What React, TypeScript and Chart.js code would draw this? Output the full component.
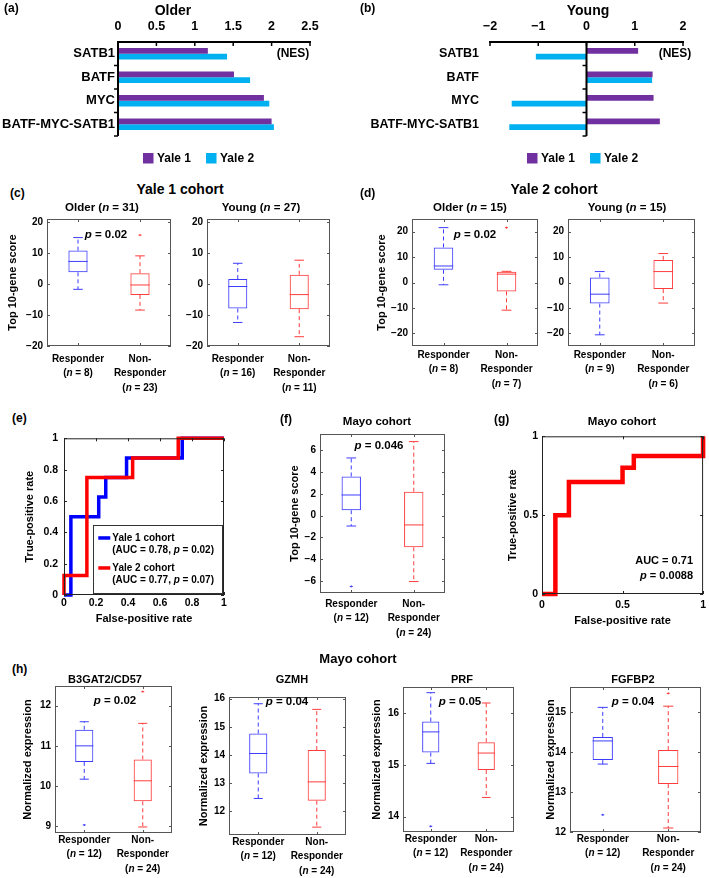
import React, { useEffect, useRef } from 'react';
import { Chart, registerables } from 'chart.js';

Chart.register(...registerables);

const FONT = '"Liberation Sans", Arial, Helvetica, sans-serif';
Chart.defaults.font.family = FONT;
Chart.defaults.color = '#000';

// ---------------- data ----------------
const tfCategories = ['SATB1', 'BATF', 'MYC', 'BATF-MYC-SATB1'];
const cohortNames = ['Yale 1', 'Yale 2'];
const olderNesYale1 = [1.17, 1.51, 1.9, 2.0];
const olderNesYale2 = [1.42, 1.72, 1.97, 2.03];
const youngNesYale1 = [1.07, 1.37, 1.39, 1.52];
const youngNesYale2 = [-1.05, 1.36, -1.55, -1.6];
const olderNesTicks = [0, 0.5, 1, 1.5, 2, 2.5];
const youngNesTicks = [-2, -1, 0, 1, 2];

const groupNames = ['Responder', 'Non-Responder'];
// box statistics: [lower whisker, Q1, median, Q3, upper whisker]
const yale1OlderResp = [-1.7, 3.8, 7.3, 10.8, 15.0];
const yale1OlderNonResp = [-8.4, -3.5, -0.3, 3.5, 9.1];
const yale1OlderOutliers = [[], [15.8]];
const yale1OlderN = [8, 23];
const yale1YoungResp = [-12.4, -7.9, -0.8, 1.6, 6.7];
const yale1YoungNonResp = [-17.0, -8.1, -3.4, 3.0, 7.7];
const yale1YoungOutliers = [[], []];
const yale1YoungN = [16, 11];
const yale1ScoreTicks = [-20, -10, 0, 10, 20];

const yale2OlderResp = [-0.9, 5.0, 6.5, 13.8, 21.6];
const yale2OlderNonResp = [-10.9, -3.5, 3.3, 4.2, 4.4];
const yale2OlderOutliers = [[], [21.6]];
const yale2OlderN = [8, 7];
const yale2YoungResp = [-20.6, -8.3, -4.6, 2.0, 4.3];
const yale2YoungNonResp = [-8.1, -2.6, 4.3, 8.9, 11.4];
const yale2YoungOutliers = [[], []];
const yale2YoungN = [9, 6];
const yale2ScoreTicks = [-20, -10, 0, 10, 20];

const mayoN = [12, 24];
const mayoScoreResp = [-0.95, 0.5, 1.9, 3.6, 5.3];
const mayoScoreNonResp = [-6.05, -2.9, -0.85, 2.2, 6.8];
const mayoScoreOutliers = [[-6.5], []];
const mayoScoreTicks = [-6, -4, -2, 0, 2, 4, 6];

const b3gat2Resp = [10.17, 10.6, 11.0, 11.4, 11.6];
const b3gat2NonResp = [8.98, 9.62, 10.13, 10.66, 11.56];
const b3gat2Outliers = [[9.03], [12.35]];
const b3gat2Ticks = [9, 10, 11, 12];
const gzmhResp = [12.45, 13.34, 14.05, 14.76, 15.82];
const gzmhNonResp = [11.43, 12.37, 13.04, 14.17, 15.62];
const gzmhOutliers = [[], []];
const gzmhTicks = [12, 13, 14, 15, 16];
const prfResp = [15.03, 15.24, 15.64, 15.84, 16.4];
const prfNonResp = [14.37, 14.9, 15.23, 15.44, 16.2];
const prfOutliers = [[13.81], []];
const prfTicks = [14, 15, 16];
const fgfbp2Resp = [13.7, 13.8, 14.28, 14.38, 15.12];
const fgfbp2NonResp = [12.1, 13.2, 13.64, 14.05, 15.15];
const fgfbp2Outliers = [[12.43], [15.47]];
const fgfbp2Ticks = [12, 13, 14, 15];

// ROC curves
const rocYale1Fpr = [0, 0.043, 0.043, 0.217, 0.217, 0.261, 0.261, 0.391, 0.391, 0.739, 0.739, 1];
const rocYale1Tpr = [0, 0, 0.5, 0.5, 0.625, 0.625, 0.75, 0.75, 0.875, 0.875, 1, 1];
const rocYale2Fpr = [0, 0, 0.143, 0.143, 0.429, 0.429, 0.714, 0.714, 1];
const rocYale2Tpr = [0, 0.125, 0.125, 0.75, 0.75, 0.875, 0.875, 1, 1];
const rocMayoFpr = [0, 0.083, 0.083, 0.167, 0.167, 0.5, 0.5, 0.57, 0.57, 1, 1];
const rocMayoTpr = [0, 0, 0.5, 0.5, 0.71, 0.71, 0.8, 0.8, 0.875, 0.875, 1];
const rocCohorts = ['Yale 1 cohort', 'Yale 2 cohort'];
const rocAuc = [0.78, 0.77];
const rocP = [0.02, 0.07];
const rocTicksFine = [0, 0.2, 0.4, 0.6, 0.8, 1];
const rocTicksCoarse = [0, 0.5, 1];

// ---------------- helpers ----------------
const BLUE = 'rgb(60,60,255)';
const RED = 'rgb(255,60,60)';
const PURPLE = '#7030A0';
const CYAN = '#00B0F0';

const fmt = (v: number) => (v < 0 ? '\u2212' + Math.abs(v) : String(v));

function drawRich(ctx: any, text: string, x: number, y: number, size: number, align: string) {
  const parts = text.split(/\b([np])\b/);
  const fonts = parts.map((_, i) => `${i % 2 ? 'italic ' : ''}bold ${size}px ${FONT}`);
  const widths = parts.map((p, i) => {
    ctx.font = fonts[i];
    return ctx.measureText(p).width;
  });
  const total = widths.reduce((a, b) => a + b, 0);
  let cx = align === 'left' ? x : align === 'right' ? x - total : x - total / 2;
  ctx.textAlign = 'left';
  ctx.textBaseline = 'middle';
  ctx.fillStyle = '#000';
  parts.forEach((p, i) => {
    ctx.font = fonts[i];
    ctx.fillText(p, cx, y);
    cx += widths[i];
  });
}

function drawYTitle(ctx: any, text: string, x: number, yc: number, size: number) {
  ctx.save();
  ctx.translate(x, yc);
  ctx.rotate(-Math.PI / 2);
  drawRich(ctx, text, 0, 0, size, 'center');
  ctx.restore();
}

function seg(ctx: any, x1: number, y1: number, x2: number, y2: number) {
  ctx.beginPath();
  ctx.moveTo(x1, y1);
  ctx.lineTo(x2, y2);
  ctx.stroke();
}

function useChartCanvas(factory: (c: HTMLCanvasElement) => any) {
  const ref = useRef<HTMLCanvasElement | null>(null);
  useEffect(() => {
    if (!ref.current) return;
    const chart = factory(ref.current);
    return () => chart.destroy();
  }, []);
  return ref;
}

function Rich({ text }: { text: string }) {
  const parts = text.split(/\b([np])\b/);
  return (
    <>
      {parts.map((p, i) => (i % 2 ? <i key={i}>{p}</i> : <span key={i}>{p}</span>))}
    </>
  );
}

// ---------------- NES bar panel ----------------
function NesPanel(props: any) {
  const { canvasLeft, canvasWidth, area, xMin, xMax, ticks, yale1, yale2, catFont, catPad, legendX, legendY } = props;
  const height = 172;
  const ref = useChartCanvas((canvas) => {
    const plugin = {
      id: 'nesAxes',
      afterDatasetsDraw(chart: any) {
        const ctx = chart.ctx;
        const a = chart.chartArea;
        const xs = chart.scales.x;
        const ys = chart.scales.y;
        ctx.save();
        ctx.strokeStyle = '#000';
        ctx.lineWidth = 2;
        seg(ctx, a.left - 1, a.top, a.right + 1, a.top);
        ctx.lineWidth = 1.5;
        ticks.forEach((v: number) => {
          const x = xs.getPixelForValue(v);
          seg(ctx, x, a.top, x, a.top + 4);
        });
        const x0 = xs.getPixelForValue(0);
        ctx.lineWidth = 2;
        seg(ctx, x0, a.top, x0, a.bottom);
        ctx.lineWidth = 1.5;
        const n = chart.data.labels.length;
        for (let k = 0; k < n; k++) {
          const y = ys.getPixelForValue(k + 0.5);
          seg(ctx, x0 - 4, y, x0, y);
        }
        // legend
        let lx = legendX - canvasLeft;
        ctx.font = `bold 12px ${FONT}`;
        ctx.textBaseline = 'middle';
        ctx.textAlign = 'left';
        chart.data.datasets.forEach((ds: any) => {
          ctx.fillStyle = ds.backgroundColor;
          ctx.fillRect(lx, legendY - 5, 10.5, 10.5);
          ctx.fillStyle = '#000';
          ctx.fillText(ds.label, lx + 14, legendY + 0.5);
          lx += 14 + ctx.measureText(ds.label).width + 15;
        });
        ctx.restore();
      },
    };
    return new Chart(canvas, {
      type: 'bar',
      data: {
        labels: tfCategories,
        datasets: [
          { label: cohortNames[0], data: yale1, backgroundColor: PURPLE, borderWidth: 0, barPercentage: 1, categoryPercentage: 0.485 },
          { label: cohortNames[1], data: yale2, backgroundColor: CYAN, borderWidth: 0, barPercentage: 1, categoryPercentage: 0.485 },
        ],
      },
      options: {
        indexAxis: 'y',
        animation: false,
        responsive: false,
        maintainAspectRatio: false,
        layout: { padding: { left: 0, top: 0, right: canvasLeft + canvasWidth - area.r, bottom: height - area.b } },
        plugins: { legend: { display: false }, tooltip: { enabled: false } },
        scales: {
          x: {
            type: 'linear',
            position: 'top',
            min: xMin,
            max: xMax,
            grid: { display: false, drawTicks: false },
            border: { display: false },
            afterBuildTicks: (s: any) => {
              s.ticks = ticks.map((v: number) => ({ value: v }));
            },
            ticks: { padding: 8, color: '#000', font: { size: 12.5, weight: 'bold' }, callback: (v: any) => fmt(Number(v)) },
            afterFit: (s: any) => {
              s.height = area.t;
            },
          },
          y: {
            type: 'category',
            grid: { display: false, drawTicks: false },
            border: { display: false },
            ticks: { padding: catPad, color: '#000', font: { size: catFont, weight: 'bold' } },
            afterFit: (s: any) => {
              s.width = area.l - canvasLeft;
            },
          },
        },
      } as any,
      plugins: [plugin],
    });
  });
  return (
    <canvas
      ref={ref}
      width={canvasWidth}
      height={height}
      style={{ position: 'absolute', left: canvasLeft, top: 0, width: canvasWidth, height }}
    />
  );
}

// ---------------- box plot panel ----------------
function BoxPanel(props: any) {
  const { area, yMin, yMax, yTicks, resp, nonResp, outliers, nums, yTitle, yTitleGap, labelGap } = props;
  const ML = 54, MT = 10, MR = 8, MB = 60;
  const left = area.l - ML, top = area.t - MT;
  const width = area.r - area.l + ML + MR, height = area.b - area.t + MT + MB;
  const ref = useChartCanvas((canvas) => {
    const stats = [resp, nonResp];
    const colors = [BLUE, RED];
    const nonParts = groupNames[1].replace('-', '-\n').split('\n');
    const xLabels = [
      [groupNames[0], `(n = ${nums[0]})`],
      [...nonParts, `(n = ${nums[1]})`],
    ];
    const plugin = {
      id: 'boxExtras',
      afterDatasetsDraw(chart: any) {
        const ctx = chart.ctx;
        const ys = chart.scales.y;
        const meta = chart.getDatasetMeta(0);
        const y = (v: number) => ys.getPixelForValue(v);
        stats.forEach((s: number[], i: number) => {
          const el = meta.data[i];
          const cx = el.x, bw = el.width;
          ctx.save();
          ctx.strokeStyle = colors[i];
          ctx.lineWidth = 1;
          ctx.setLineDash([4, 3]);
          seg(ctx, cx, y(s[3]), cx, y(s[4]));
          seg(ctx, cx, y(s[1]), cx, y(s[0]));
          ctx.setLineDash([]);
          seg(ctx, cx - bw / 4, y(s[4]), cx + bw / 4, y(s[4]));
          seg(ctx, cx - bw / 4, y(s[0]), cx + bw / 4, y(s[0]));
          seg(ctx, cx - bw / 2, y(s[2]), cx + bw / 2, y(s[2]));
          outliers[i].forEach((v: number) => {
            const oy = y(v);
            seg(ctx, cx - 1.5, oy, cx + 1.5, oy);
            seg(ctx, cx, oy - 1, cx, oy + 1);
          });
          ctx.restore();
        });
      },
      afterDraw(chart: any) {
        const ctx = chart.ctx;
        const a = chart.chartArea;
        const ys = chart.scales.y;
        const meta = chart.getDatasetMeta(0);
        ctx.save();
        ctx.strokeStyle = '#555';
        ctx.lineWidth = 1;
        ctx.strokeRect(a.left + 0.5, a.top + 0.5, a.right - a.left - 1, a.bottom - a.top - 1);
        yTicks.forEach((v: number) => {
          const yy = Math.round(ys.getPixelForValue(v)) + 0.5;
          seg(ctx, a.left, yy, a.left + 3, yy);
          seg(ctx, a.right - 3, yy, a.right, yy);
        });
        meta.data.forEach((el: any, i: number) => {
          const xx = Math.round(el.x) + 0.5;
          seg(ctx, xx, a.bottom, xx, a.bottom - 3);
          seg(ctx, xx, a.top, xx, a.top + 3);
          xLabels[i].forEach((ln: string, k: number) => {
            drawRich(ctx, ln, el.x, a.bottom + labelGap + k * 14.5, 10, 'center');
          });
        });
        if (yTitle) drawYTitle(ctx, yTitle, a.left - yTitleGap, (a.top + a.bottom) / 2, 11);
        ctx.restore();
      },
    };
    return new Chart(canvas, {
      type: 'bar',
      data: {
        labels: groupNames,
        datasets: [
          {
            data: stats.map((s: number[]) => [s[1], s[3]]),
            borderColor: colors,
            backgroundColor: 'rgba(0,0,0,0)',
            borderWidth: 1,
            borderSkipped: false,
            barPercentage: 0.31,
            categoryPercentage: 1,
          },
        ],
      },
      options: {
        animation: false,
        responsive: false,
        maintainAspectRatio: false,
        layout: { padding: { left: 0, top: MT, right: MR, bottom: 0 } },
        plugins: { legend: { display: false }, tooltip: { enabled: false } },
        scales: {
          x: {
            type: 'category',
            grid: { display: false, drawTicks: false },
            border: { display: false },
            ticks: { display: false },
            afterFit: (s: any) => {
              s.height = MB;
            },
          },
          y: {
            type: 'linear',
            min: yMin,
            max: yMax,
            grid: { display: false, drawTicks: false },
            border: { display: false },
            afterBuildTicks: (s: any) => {
              s.ticks = yTicks.map((v: number) => ({ value: v }));
            },
            ticks: { padding: 4, color: '#000', font: { size: 10, weight: 'bold' }, callback: (v: any) => fmt(Number(v)) },
            afterFit: (s: any) => {
              s.width = ML;
            },
          },
        },
      } as any,
      plugins: [plugin],
    });
  });
  return <canvas ref={ref} width={width} height={height} style={{ position: 'absolute', left, top, width, height }} />;
}

// ---------------- ROC panel ----------------
function RocPanel(props: any) {
  const { area, series, ticks, tickPadX, yTitleGap, xTitleGap, legend } = props;
  const ML = 56, MT = 8, MR = 6, MB = 36;
  const left = area.l - ML, top = area.t - MT;
  const width = area.r - area.l + ML + MR, height = area.b - area.t + MT + MB;
  const ref = useChartCanvas((canvas) => {
    const plugin = {
      id: 'rocExtras',
      afterDraw(chart: any) {
        const ctx = chart.ctx;
        const a = chart.chartArea;
        const xs = chart.scales.x;
        const ys = chart.scales.y;
        ctx.save();
        ctx.strokeStyle = '#222';
        ctx.lineWidth = 1;
        ctx.strokeRect(a.left + 0.5, a.top + 0.5, a.right - a.left - 1, a.bottom - a.top - 1);
        ticks.forEach((v: number) => {
          const xx = Math.round(xs.getPixelForValue(v)) + 0.5;
          seg(ctx, xx, a.bottom, xx, a.bottom - 3);
          seg(ctx, xx, a.top, xx, a.top + 3);
          const yy = Math.round(ys.getPixelForValue(v)) + 0.5;
          seg(ctx, a.left, yy, a.left + 3, yy);
          seg(ctx, a.right - 3, yy, a.right, yy);
        });
        if (legend) {
          const bl = xs.getPixelForValue(legend.x0), br = xs.getPixelForValue(legend.x1);
          const bt = ys.getPixelForValue(legend.y1), bb = ys.getPixelForValue(legend.y0);
          ctx.fillStyle = '#fff';
          ctx.fillRect(bl, bt, br - bl, bb - bt);
          ctx.strokeStyle = '#333';
          ctx.lineWidth = 1;
          ctx.strokeRect(Math.round(bl) + 0.5, Math.round(bt) + 0.5, Math.round(br - bl), Math.round(bb - bt));
          legend.entries.forEach((en: any, i: number) => {
            const ey = bt + 12.7 + i * 30;
            ctx.strokeStyle = en.color;
            ctx.lineWidth = 3.5;
            seg(ctx, bl + 5, ey, bl + 17, ey);
            en.lines.forEach((t: string, k: number) => drawRich(ctx, t, bl + 19, ey + k * 12.6, 10, 'left'));
          });
        }
        drawRich(ctx, 'False-positive rate', (a.left + a.right) / 2, a.bottom + xTitleGap, 11, 'center');
        drawYTitle(ctx, 'True-positive rate', a.left - yTitleGap, (a.top + a.bottom) / 2, 11);
        ctx.restore();
      },
    };
    return new Chart(canvas, {
      type: 'scatter',
      data: {
        datasets: series.map((s: any) => ({
          data: s.fpr.map((x: number, k: number) => ({ x, y: s.tpr[k] })),
          showLine: true,
          borderColor: s.color,
          backgroundColor: s.color,
          borderWidth: s.width,
          pointRadius: 0,
          tension: 0,
          clip: false,
          order: s.order,
          borderJoinStyle: 'miter',
        })),
      },
      options: {
        animation: false,
        responsive: false,
        maintainAspectRatio: false,
        layout: { padding: { left: 0, top: MT, right: MR, bottom: 0 } },
        plugins: { legend: { display: false }, tooltip: { enabled: false } },
        scales: {
          x: {
            type: 'linear',
            min: 0,
            max: 1,
            grid: { display: false, drawTicks: false },
            border: { display: false },
            afterBuildTicks: (s: any) => {
              s.ticks = ticks.map((v: number) => ({ value: v }));
            },
            ticks: { padding: tickPadX, color: '#000', font: { size: 10.5, weight: 'bold' }, callback: (v: any) => String(v) },
            afterFit: (s: any) => {
              s.height = MB;
            },
          },
          y: {
            type: 'linear',
            min: 0,
            max: 1,
            grid: { display: false, drawTicks: false },
            border: { display: false },
            afterBuildTicks: (s: any) => {
              s.ticks = ticks.map((v: number) => ({ value: v }));
            },
            ticks: { padding: props.tickPadY, color: '#000', font: { size: 10.5, weight: 'bold' }, callback: (v: any) => String(v) },
            afterFit: (s: any) => {
              s.width = ML;
            },
          },
        },
      } as any,
      plugins: [plugin],
    });
  });
  return <canvas ref={ref} width={width} height={height} style={{ position: 'absolute', left, top, width, height }} />;
}

// ---------------- annotations ----------------
const sum = (a: number[]) => a.reduce((x, y) => x + y, 0);
const annotations: any[] = [
  { x: 4, y: 8, s: 12, a: 'left', t: '(a)' },
  { x: 173, y: 10, s: 14, t: 'Older' },
  { x: 293, y: 53, s: 12, t: '(NES)' },
  { x: 360, y: 8, s: 12, a: 'left', t: '(b)' },
  { x: 588, y: 10, s: 14, t: 'Young' },
  { x: 675, y: 53, s: 12, t: '(NES)' },
  { x: 10, y: 193, s: 12, a: 'left', t: '(c)' },
  { x: 180, y: 189, s: 14, t: 'Yale 1 cohort' },
  { x: 102, y: 208, s: 11.5, t: `Older (n = ${sum(yale1OlderN)})` },
  { x: 261, y: 208, s: 11.5, t: `Young (n = ${sum(yale1YoungN)})` },
  { x: 106, y: 235, s: 11.5, t: 'p = 0.02' },
  { x: 360, y: 193, s: 12, a: 'left', t: '(d)' },
  { x: 554, y: 189, s: 14, t: 'Yale 2 cohort' },
  { x: 470, y: 208, s: 11.5, t: `Older (n = ${sum(yale2OlderN)})` },
  { x: 627, y: 208, s: 11.5, t: `Young (n = ${sum(yale2YoungN)})` },
  { x: 475, y: 235, s: 11.5, t: 'p = 0.02' },
  { x: 12, y: 418, s: 12, a: 'left', t: '(e)' },
  { x: 280, y: 419, s: 12, a: 'left', t: '(f)' },
  { x: 377, y: 422, s: 11.5, t: 'Mayo cohort' },
  { x: 379, y: 446, s: 11.5, t: 'p = 0.046' },
  { x: 494, y: 419, s: 12, a: 'left', t: '(g)' },
  { x: 622, y: 422, s: 11.5, t: 'Mayo cohort' },
  { x: 693, y: 560, s: 11, a: 'right', t: 'AUC = 0.71' },
  { x: 693, y: 575, s: 11, a: 'right', t: 'p = 0.0088' },
  { x: 12, y: 669, s: 12, a: 'left', t: '(h)' },
  { x: 358, y: 658, s: 13, t: 'Mayo cohort' },
  { x: 105, y: 679, s: 11, t: 'B3GAT2/CD57' },
  { x: 292, y: 679, s: 11, t: 'GZMH' },
  { x: 462, y: 679, s: 11, t: 'PRF' },
  { x: 633, y: 679, s: 11, t: 'FGFBP2' },
  { x: 115, y: 701, s: 11.5, t: 'p = 0.02' },
  { x: 287, y: 702, s: 11.5, t: 'p = 0.04' },
  { x: 460, y: 702, s: 11.5, t: 'p = 0.05' },
  { x: 633, y: 702, s: 11.5, t: 'p = 0.04' },
];

export default function App() {
  return (
    <div style={{ position: 'absolute', left: 0, top: 0, width: 709, height: 878, background: '#fff', overflow: 'hidden' }}>
      <NesPanel
        canvasLeft={0}
        canvasWidth={345}
        area={{ l: 118, t: 42, r: 310, b: 136 }}
        xMin={0}
        xMax={2.5}
        ticks={olderNesTicks}
        yale1={olderNesYale1}
        yale2={olderNesYale2}
        catFont={13}
        catPad={3}
        legendX={143}
        legendY={158}
      />
      <NesPanel
        canvasLeft={354}
        canvasWidth={355}
        area={{ l: 490, t: 42, r: 683, b: 136 }}
        xMin={-2}
        xMax={2}
        ticks={youngNesTicks}
        yale1={youngNesYale1}
        yale2={youngNesYale2}
        catFont={12.5}
        catPad={11}
        legendX={527}
        legendY={158}
      />
      <BoxPanel area={{ l: 47, t: 219, r: 171, b: 346 }} yMin={-20} yMax={21} yTicks={yale1ScoreTicks}
        resp={yale1OlderResp} nonResp={yale1OlderNonResp} outliers={yale1OlderOutliers} nums={yale1OlderN}
        yTitle="Top 10-gene score" yTitleGap={34} labelGap={13} />
      <BoxPanel area={{ l: 207, t: 219, r: 330, b: 346 }} yMin={-20} yMax={21} yTicks={yale1ScoreTicks}
        resp={yale1YoungResp} nonResp={yale1YoungNonResp} outliers={yale1YoungOutliers} nums={yale1YoungN}
        labelGap={13} />
      <BoxPanel area={{ l: 412, t: 219, r: 538, b: 346 }} yMin={-25} yMax={25} yTicks={yale2ScoreTicks}
        resp={yale2OlderResp} nonResp={yale2OlderNonResp} outliers={yale2OlderOutliers} nums={yale2OlderN}
        yTitle="Top 10-gene score" yTitleGap={30} labelGap={9} />
      <BoxPanel area={{ l: 568, t: 219, r: 695, b: 346 }} yMin={-25} yMax={25} yTicks={yale2ScoreTicks}
        resp={yale2YoungResp} nonResp={yale2YoungNonResp} outliers={yale2YoungOutliers} nums={yale2YoungN}
        labelGap={9} />
      <RocPanel
        area={{ l: 64, t: 434, r: 224, b: 595 }}
        ticks={rocTicksFine}
        tickPadX={2}
        tickPadY={6}
        yTitleGap={34}
        xTitleGap={24}
        series={[
          { fpr: rocYale1Fpr, tpr: rocYale1Tpr, color: '#0000ff', width: 3.5, order: 2 },
          { fpr: rocYale2Fpr, tpr: rocYale2Tpr, color: '#ff0000', width: 3.5, order: 1 },
        ]}
        legend={{
          x0: 0.183,
          x1: 0.99,
          y0: 0.012,
          y1: 0.445,
          entries: [
            { color: '#0000ff', lines: [rocCohorts[0], `(AUC = ${rocAuc[0]}, p = ${rocP[0]})`] },
            { color: '#ff0000', lines: [rocCohorts[1], `(AUC = ${rocAuc[1]}, p = ${rocP[1]})`] },
          ],
        }}
      />
      <BoxPanel area={{ l: 320, t: 434, r: 445, b: 593 }} yMin={-7.1} yMax={7.5} yTicks={mayoScoreTicks}
        resp={mayoScoreResp} nonResp={mayoScoreNonResp} outliers={mayoScoreOutliers} nums={mayoN}
        yTitle="Top 10-gene score" yTitleGap={25} labelGap={11} />
      <RocPanel
        area={{ l: 542, t: 434, r: 705, b: 594 }}
        ticks={rocTicksCoarse}
        tickPadX={5}
        tickPadY={4}
        yTitleGap={29}
        xTitleGap={27}
        series={[{ fpr: rocMayoFpr, tpr: rocMayoTpr, color: '#ff0000', width: 4.5, order: 1 }]}
      />
      <BoxPanel area={{ l: 55, t: 686, r: 172, b: 833 }} yMin={8.83} yMax={12.49} yTicks={b3gat2Ticks}
        resp={b3gat2Resp} nonResp={b3gat2NonResp} outliers={b3gat2Outliers} nums={mayoN}
        yTitle="Normalized expression" yTitleGap={27} labelGap={7} />
      <BoxPanel area={{ l: 229, t: 697, r: 346, b: 835 }} yMin={11.15} yMax={16.06} yTicks={gzmhTicks}
        resp={gzmhResp} nonResp={gzmhNonResp} outliers={gzmhOutliers} nums={mayoN}
        yTitle="Normalized expression" yTitleGap={25} labelGap={7} />
      <BoxPanel area={{ l: 403, t: 687, r: 514, b: 832 }} yMin={13.7} yMax={16.51} yTicks={prfTicks}
        resp={prfResp} nonResp={prfNonResp} outliers={prfOutliers} nums={mayoN}
        yTitle="Normalized expression" yTitleGap={26} labelGap={7} />
      <BoxPanel area={{ l: 570, t: 687, r: 701, b: 832 }} yMin={12} yMax={15.63} yTicks={fgfbp2Ticks}
        resp={fgfbp2Resp} nonResp={fgfbp2NonResp} outliers={fgfbp2Outliers} nums={mayoN}
        yTitle="Normalized expression" yTitleGap={19} labelGap={7} />
      {annotations.map((an, i) => (
        <div
          key={i}
          style={{
            position: 'absolute',
            left: an.x,
            top: an.y,
            transform: `translate(${an.a === 'left' ? '0' : an.a === 'right' ? '-100%' : '-50%'}, -50%)`,
            font: `bold ${an.s}px ${FONT}`,
            lineHeight: 1,
            whiteSpace: 'nowrap',
            color: '#000',
          }}
        >
          <Rich text={an.t} />
        </div>
      ))}
    </div>
  );
}
